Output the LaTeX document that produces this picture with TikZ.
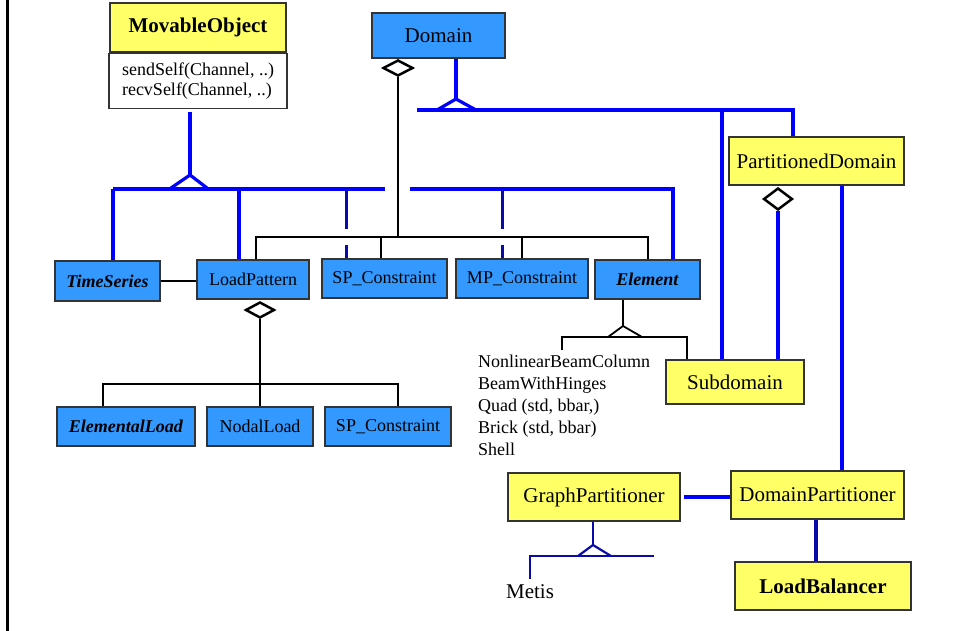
\documentclass[tikz,border=0pt]{standalone}
\usepackage{fontspec}
\setmainfont{Liberation Serif}
\usepackage{xcolor}
\usetikzlibrary{shapes.geometric}
\definecolor{classblue}{RGB}{51,153,255}
\definecolor{classyellow}{RGB}{255,255,102}
\definecolor{linkblue}{RGB}{0,0,255}
\definecolor{darklink}{RGB}{10,10,170}

\tikzset{
  cls/.style={draw=black!80,line width=1.2pt,inner sep=0pt,font=\fontsize{18}{20}\selectfont},
  bluecls/.style={cls,fill=classblue},
  yellowcls/.style={cls,fill=classyellow,font=\fontsize{21}{24}\selectfont},
  inherit/.style={linkblue,line width=3.2pt},
  darkinherit/.style={darklink,line width=3pt},
  assoc/.style={black,line width=1.8pt},
  aggr/.style={diamond,draw=black,fill=white,line width=2.5pt,inner sep=0pt},
}

\begin{document}
\begin{tikzpicture}[x=1pt,y=-1pt]
	\useasboundingbox (0,0) rectangle (953,631);
	\draw[line width=3pt] (7,0) -- (7,631); %frame

	%CLASSES
	\node[yellowcls,minimum width=176pt,minimum height=49pt] (mov) at (198,27.5) {\textbf{MovableObject}};
	\node[cls,fill=white,minimum width=178pt,minimum height=55pt,align=left,anchor=north] (movmeth) at (mov.south) {sendSelf(Channel, ..)\\recvSelf(Channel, ..)};
	\node[bluecls,font=\fontsize{21}{24}\selectfont,minimum width=133pt,minimum height=45pt] (dom) at (438.5,35.5) {Domain};
	\node[yellowcls,minimum width=175pt,minimum height=48pt] (pdom) at (816.5,161) {PartitionedDomain};
	\node[bluecls,minimum width=105pt,minimum height=40pt] (ts) at (107.5,281) {\textbf{\textit{TimeSeries}}};
	\node[bluecls,minimum width=112pt,minimum height=39pt] (lp) at (253,279.5) {LoadPattern};
	\node[bluecls,minimum width=125pt,minimum height=39pt] (spt) at (384.5,278.5) {SP\_Constraint};
	\node[bluecls,minimum width=132pt,minimum height=39pt] (mpt) at (522,278.5) {MP\_Constraint};
	\node[bluecls,minimum width=105pt,minimum height=39pt] (elem) at (647.5,279.5) {\textbf{\textit{Element}}};
	\node[bluecls,minimum width=138pt,minimum height=39pt] (eload) at (126,426.5) {\textbf{\textit{ElementalLoad}}};
	\node[bluecls,minimum width=106pt,minimum height=39pt] (nload) at (260,426.5) {NodalLoad};
	\node[bluecls,minimum width=126pt,minimum height=39pt] (spb) at (388,426.5) {SP\_Constraint};
	\node[yellowcls,minimum width=138pt,minimum height=44pt] (sub) at (735,382) {Subdomain};
	\node[yellowcls,minimum width=172pt,minimum height=48pt] (gpart) at (594,497) {GraphPartitioner};
	\node[yellowcls,minimum width=173pt,minimum height=48pt] (dpart) at (817.5,495) {DomainPartitioner};
	\node[yellowcls,minimum width=176pt,minimum height=48pt] (lb) at (823,586) {\textbf{LoadBalancer}};

	%SUBCLASS NAMES
	\node[inner sep=0pt,anchor=north west,align=left,font=\fontsize{18}{22}\selectfont] (ellist) at (478,355)
		{NonlinearBeamColumn\\BeamWithHinges\\Quad (std, bbar,)\\Brick (std, bbar)\\Shell};
	\node[inner sep=0pt,font=\fontsize{21}{24}\selectfont] (metis) at (530,592) {Metis};

	%AGGREGATION DIAMONDS
	\node[aggr,minimum width=30pt,minimum height=16pt] (domdia) at (398,68) {};
	\node[aggr,minimum width=29pt,minimum height=16pt] (lpdia) at (260,310) {};
	\node[aggr,minimum width=29pt,minimum height=22pt] (pdia) at (778,199) {};

	%MOVABLEOBJECT TREE
	\coordinate (movtip) at (190,175);
	\coordinate (movbusL) at (113,189);
	\coordinate (movbusR) at (673,189);
	\coordinate (lpup) at (239,189);
	\coordinate (spup) at (346,189);
	\coordinate (mpup) at (502,189);
	\draw[inherit] ([yshift=-3pt]movtip |- movmeth.south) -- (movtip);
	\draw[inherit] (movtip) ++(-19,13) -- (movtip) -- ++(17,13);
	\draw[inherit] (movbusL) -- (385,189);
	\draw[inherit] (410,189) -- (movbusR) -- (movbusR |- elem.north);
	\draw[inherit] (movbusL) -- (movbusL |- ts.north);
	\draw[inherit] (lpup) -- (lpup |- lp.north);
	\draw[darkinherit] (spup) -- ++(0,40) ++(0,16) -- (spup |- spt.north);
	\draw[darkinherit] (mpup) -- ++(0,40) ++(0,16) -- (mpup |- mpt.north);

	%DOMAIN PARTS
	\coordinate (dombusL) at (256,237);
	\coordinate (dombusR) at (648,237);
	\draw[assoc,line width=1.3pt] (domdia.south) -- (domdia.south |- dombusL);
	\draw[assoc] (dombusL |- lp.north) -- (dombusL) -- (dombusR) -- (dombusR |- elem.north);
	\draw[assoc] ([xshift=-3.5pt]spt.north) -- ([xshift=-3.5pt]spt.north |- dombusL);
	\draw[assoc] (mpt.north) -- (mpt.north |- dombusL);
	\draw[assoc] (ts.east) -- (ts.east -| lp.west);

	%LOADPATTERN PARTS
	\coordinate (lpbusL) at (103,384);
	\coordinate (lpbusR) at (398,384);
	\draw[assoc] (lpdia.south) -- (lpdia.south |- lpbusL) -- (nload.north);
	\draw[assoc] (lpbusL |- eload.north) -- (lpbusL) -- (lpbusR) -- (lpbusR |- spb.north);

	%ELEMENT SUBCLASSES
	\coordinate (eltip) at (623,326);
	\coordinate (elbusL) at (562,337);
	\coordinate (elbusR) at (687,337);
	\draw[assoc] (eltip |- elem.south) -- (eltip);
	\draw[assoc] (eltip) ++(-15,11) -- (eltip) -- ++(19,11);
	\draw[assoc] (elbusL) ++(0,13) -- (elbusL) -- (elbusR) -- (elbusR |- sub.north);

	%DOMAIN SUBCLASSES
	\coordinate (domtip) at (456,99);
	\coordinate (dombus2L) at (417,110);
	\coordinate (dombus2R) at (793,110);
	\coordinate (subup) at (722,110);
	\draw[inherit] (domtip |- dom.south) -- (domtip);
	\draw[inherit] (domtip) ++(-19,11) -- (domtip) -- ++(20,11);
	\draw[inherit] (dombus2L) -- (dombus2R) -- (dombus2R |- pdom.north);
	\draw[inherit] (subup) -- (subup |- sub.north);

	%PARTITIONED DOMAIN
	\draw[inherit] (pdia.south) -- (pdia.south |- sub.north);
	\draw[inherit] ([xshift=25.5pt]pdom.south) -- ([xshift=25.5pt]pdom.south |- dpart.north);
	\draw[inherit] ([xshift=3pt]gpart.east) -- (gpart.east -| dpart.west);
	\draw[darkinherit,line width=3.5pt] ([xshift=-1.5pt]dpart.south) -- ([xshift=-1.5pt]dpart.south |- lb.north);

	%GRAPHPARTITIONER SUBCLASSES
	\coordinate (gtip) at (593,545);
	\coordinate (metbus) at (530,556);
	\draw[darkinherit,line width=2.2pt] (gtip |- gpart.south) -- (gtip);
	\draw[darkinherit,line width=2.2pt] (gtip) ++(-15,11) -- (gtip) -- ++(18,11);
	\draw[darkinherit,line width=2.2pt] (metbus) ++(0,23) -- (metbus) -- ++(124,0);
\end{tikzpicture}
\end{document}
